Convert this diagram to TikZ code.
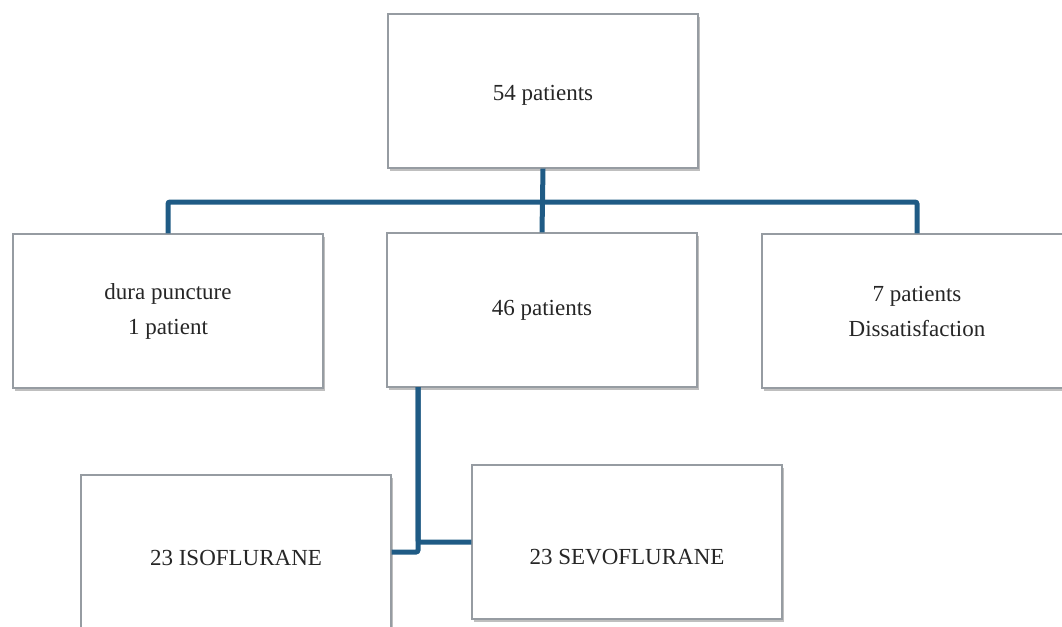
\documentclass[tikz,border=0pt]{standalone}
\usepackage{fontspec}
\setmainfont{Liberation Serif}
\usetikzlibrary{shadows}
\definecolor{linkblue}{RGB}{31,91,133}
\definecolor{boxgray}{RGB}{150,156,162}

\begin{document}
\begin{tikzpicture}[x=0.5pt, y=-0.5pt,
	box/.style={draw=boxgray, line width=0.6pt, fill=white, minimum width=155pt, minimum height=77pt, align=center, text=black!85, font=\fontsize{11.5}{17.5}\selectfont, drop shadow={shadow xshift=1pt, shadow yshift=-1.5pt, opacity=0.25, fill=black}},
	link/.style={draw=linkblue, line width=2.5pt, rounded corners=1pt}]
	\clip (0,0) rectangle (1062,627);
	\fill[white] (0,0) rectangle (1062,627);

	\node[box, text height=12pt] (T54) at (543,91) {54 patients};
	\node[box] (Dura) at (168,311) {dura puncture\\1 patient};
	\node[box] (P46) at (542,310) {46 patients};
	\node[box] (Dis) at (917,311) {7 patients\\Dissatisfaction};
	\node[box, text height=14pt] (Iso) at (236,552) {23 ISOFLURANE};
	\node[box, text height=23pt] (Sevo) at (627,542) {23 SEVOFLURANE};

	\coordinate (hub) at (542,202);
	\coordinate (drop) at (418,387);

	\draw[link] (T54.south) -- (P46.north);
	\draw[link] (Dura.north) |- (hub) -| (Dis.north);
	\draw[link] (drop) |- (Iso.east);
	\draw[link] (drop) |- (Sevo.west);
\end{tikzpicture}
\end{document}
